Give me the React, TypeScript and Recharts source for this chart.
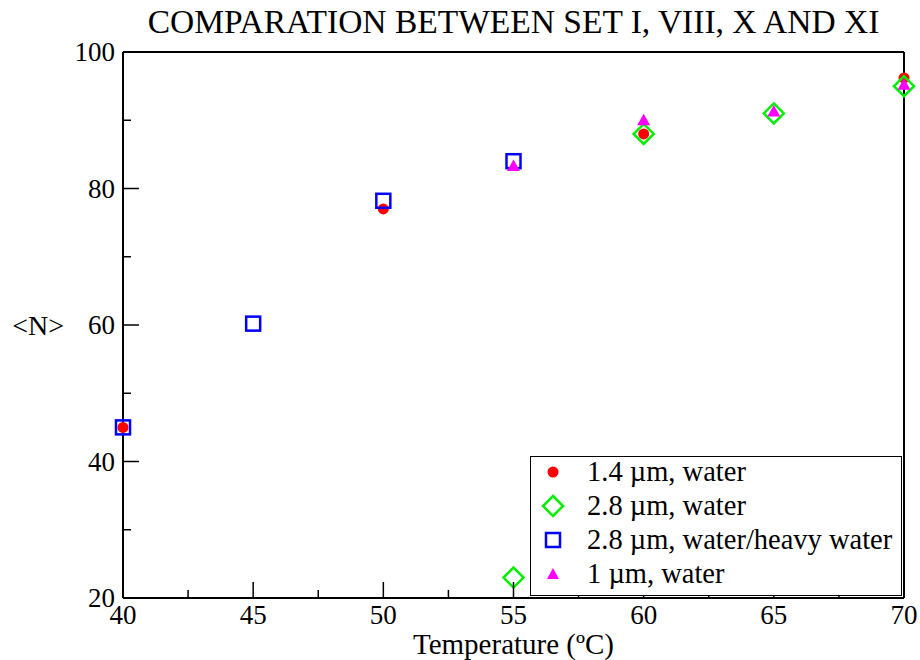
import { ScatterChart, Scatter, XAxis, YAxis } from 'recharts';

// temperature (ºC) / <N> per set
const tempsSet1 = [40, 50, 60, 70];
const nSet1 = [45, 77, 88, 96.2];
const tempsSet2 = [55, 60, 65, 70];
const nSet2 = [23, 88, 91, 95];
const tempsSet3 = [40, 45, 50, 55];
const nSet3 = [45, 60.2, 78.2, 84];
const tempsSet4 = [55, 60, 65, 70];
const nSet4 = [83.3, 90, 91.3, 95.2];

const seriesNames = ['1.4 µm, water', '2.8 µm, water', '2.8 µm, water/heavy water', '1 µm, water'];
const xTicks = [40, 42.5, 45, 47.5, 50, 52.5, 55, 57.5, 60, 62.5, 65, 67.5, 70];
const yTicks = [20, 30, 40, 50, 60, 70, 80, 90, 100];

const toPoints = (xs: number[], ys: number[]) => xs.map((x, i) => ({ x, y: ys[i] }));

const FONT = '"Liberation Serif", "Times New Roman", serif';
const MAJOR = 16;
const MINOR = 8;
const X_MARGIN = 7;
const Y_MARGIN = 8;

const RedDot = (p: any) => <circle cx={p.cx} cy={p.cy} r={5.5} fill="#ff0000" />;
const GreenDiamond = (p: any) => (
  <polygon
    points={`${p.cx},${p.cy - 10} ${p.cx + 10},${p.cy} ${p.cx},${p.cy + 10} ${p.cx - 10},${p.cy}`}
    fill="none"
    stroke="#00ee00"
    strokeWidth={2.5}
  />
);
const BlueSquare = (p: any) => (
  <rect x={p.cx - 7} y={p.cy - 7} width={14} height={14} fill="none" stroke="#0000ff" strokeWidth={2.5} />
);
const MagentaTriangle = (p: any) => (
  <polygon
    points={`${p.cx},${p.cy - 6.5} ${p.cx + 6.5},${p.cy + 5} ${p.cx - 6.5},${p.cy + 5}`}
    fill="#ff00ff"
  />
);

const BottomTick = ({ x, y, payload }: any) => {
  const major = payload.value % 5 === 0;
  const axisY = y - X_MARGIN;
  return (
    <g>
      <line x1={x} y1={axisY} x2={x} y2={axisY - (major ? MAJOR : MINOR)} stroke="#000" strokeWidth={1.5} />
      {major && (
        <text x={x} y={y} dy="0.71em" textAnchor="middle" fontSize={27} fontFamily={FONT} fill="#000">
          {payload.value}
        </text>
      )}
    </g>
  );
};

const TopTick = ({ x, y, payload }: any) => {
  const major = payload.value % 5 === 0;
  return <line x1={x} y1={y} x2={x} y2={y + (major ? MAJOR : MINOR)} stroke="#000" strokeWidth={1.5} />;
};

const LeftTick = ({ x, y, payload }: any) => {
  const major = payload.value % 20 === 0;
  const axisX = x + Y_MARGIN;
  return (
    <g>
      <line x1={axisX} y1={y} x2={axisX + (major ? MAJOR : MINOR)} y2={y} stroke="#000" strokeWidth={1.5} />
      {major && (
        <text x={x} y={y} dy="0.34em" textAnchor="end" fontSize={27} fontFamily={FONT} fill="#000">
          {payload.value}
        </text>
      )}
    </g>
  );
};

const RightTick = ({ x, y, payload }: any) => {
  const major = payload.value % 20 === 0;
  return <line x1={x} y1={y} x2={x - (major ? MAJOR : MINOR)} y2={y} stroke="#000" strokeWidth={1.5} />;
};

const legendSymbols = [
  <circle cx={12} cy={12} r={5.5} fill="#ff0000" />,
  <polygon points="12,2 22,12 12,22 2,12" fill="none" stroke="#00ee00" strokeWidth={2.5} />,
  <rect x={5} y={5} width={14} height={14} fill="none" stroke="#0000ff" strokeWidth={2.5} />,
  <polygon points="12,6 18,17 6,17" fill="#ff00ff" />,
];

export default function App() {
  return (
    <div style={{ position: 'absolute', left: 0, top: 0, width: 920, height: 660, background: '#fff', fontFamily: FONT }}>
      <div
        style={{
          position: 'absolute',
          left: 123,
          width: 781,
          top: 3,
          textAlign: 'center',
          fontSize: 33.5,
          lineHeight: 'normal',
          color: '#000',
          whiteSpace: 'nowrap',
        }}
      >
        COMPARATION BETWEEN SET I, VIII, X AND XI
      </div>
      <ScatterChart width={920} height={660} margin={{ top: 51, right: 15, bottom: 32, left: 83 }}>
        <XAxis
          xAxisId="bottom"
          type="number"
          dataKey="x"
          domain={[40, 70]}
          ticks={xTicks}
          interval={0}
          height={30}
          tickSize={0}
          tickMargin={X_MARGIN}
          tick={<BottomTick />}
          axisLine={{ stroke: '#000', strokeWidth: 2 }}
          label={{ value: 'Temperature (ºC)', position: 'bottom', offset: 5, fontSize: 29, fontFamily: FONT, fill: '#000' }}
        />
        <XAxis
          xAxisId="top"
          orientation="top"
          type="number"
          dataKey="x"
          domain={[40, 70]}
          ticks={xTicks}
          interval={0}
          height={1}
          tickSize={0}
          tickMargin={0}
          tick={<TopTick />}
          axisLine={{ stroke: '#000', strokeWidth: 2 }}
        />
        <YAxis
          yAxisId="left"
          type="number"
          dataKey="y"
          domain={[20, 100]}
          ticks={yTicks}
          interval={0}
          width={40}
          tickSize={0}
          tickMargin={Y_MARGIN}
          tick={<LeftTick />}
          axisLine={{ stroke: '#000', strokeWidth: 2 }}
          label={{ value: '<N>', position: 'left', offset: 19, fontSize: 28, fontFamily: FONT, fill: '#000' }}
        />
        <YAxis
          yAxisId="right"
          orientation="right"
          type="number"
          dataKey="y"
          domain={[20, 100]}
          ticks={yTicks}
          interval={0}
          width={1}
          tickSize={0}
          tickMargin={0}
          tick={<RightTick />}
          axisLine={{ stroke: '#000', strokeWidth: 2 }}
        />
        <Scatter xAxisId="bottom" yAxisId="left" name={seriesNames[0]} data={toPoints(tempsSet1, nSet1)} shape={RedDot} isAnimationActive={false} />
        <Scatter xAxisId="bottom" yAxisId="left" name={seriesNames[1]} data={toPoints(tempsSet2, nSet2)} shape={GreenDiamond} isAnimationActive={false} />
        <Scatter xAxisId="bottom" yAxisId="left" name={seriesNames[2]} data={toPoints(tempsSet3, nSet3)} shape={BlueSquare} isAnimationActive={false} />
        <Scatter xAxisId="bottom" yAxisId="left" name={seriesNames[3]} data={toPoints(tempsSet4, nSet4)} shape={MagentaTriangle} isAnimationActive={false} />
      </ScatterChart>
      <div
        style={{
          position: 'absolute',
          left: 530,
          top: 456,
          width: 372,
          height: 140,
          border: '1.5px solid #000',
          background: '#fff',
          boxSizing: 'border-box',
        }}
      >
        <div style={{ position: 'relative', top: -2 }}>
          {seriesNames.map((name, i) => (
            <div key={name} style={{ display: 'flex', alignItems: 'center', height: 34, fontSize: 28.5, color: '#000' }}>
              <svg width={24} height={24} style={{ marginLeft: 10, marginRight: 22, flexShrink: 0 }}>
                {legendSymbols[i]}
              </svg>
              <span style={{ whiteSpace: 'nowrap', lineHeight: '34px' }}>{name}</span>
            </div>
          ))}
        </div>
      </div>
    </div>
  );
}
